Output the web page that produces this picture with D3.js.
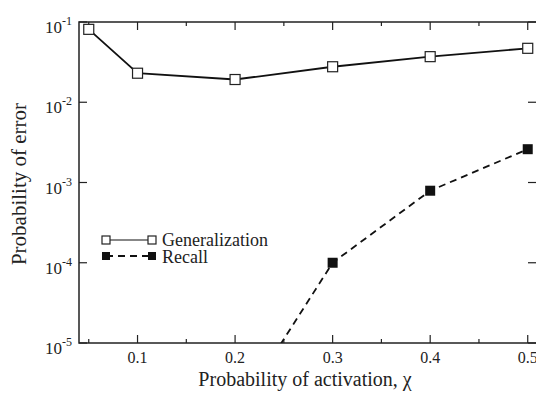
<!DOCTYPE html>
<html>
<head>
<meta charset="utf-8">
<script src="https://cdn.jsdelivr.net/npm/d3@7"></script>
<style>
  body { margin: 0; background: #fff; }
</style>
</head>
<body>
<svg id="chart" width="536" height="395"></svg>
<script>
// data
const xValues = [0.05, 0.1, 0.2, 0.3, 0.4, 0.5];
const generalization = [0.081, 0.023, 0.0192, 0.0277, 0.037, 0.047];
const recallX = [0.2, 0.3, 0.4, 0.5];
const recall = [1.25e-6, 1.0e-4, 7.9e-4, 2.6e-3];
const xTicks = [0.1, 0.2, 0.3, 0.4, 0.5];
const xMinor = [0.05, 0.15, 0.25, 0.35, 0.45];
const yExponents = [-1, -2, -3, -4, -5];

const FONT = '"Liberation Serif"';
const margin = {left: 79, top: 22, right: 537, bottom: 343};
const svg = d3.select('#chart');

const x = d3.scaleLinear().domain([0.04, 0.5095]).range([margin.left, margin.right]);
const y = d3.scaleLog().domain([1e-5, 1e-1]).range([margin.bottom, margin.top]);

svg.append('clipPath').attr('id', 'clip')
  .append('rect')
    .attr('x', margin.left).attr('y', margin.top)
    .attr('width', margin.right - margin.left)
    .attr('height', margin.bottom - margin.top);

// frame
svg.append('rect')
  .attr('x', margin.left).attr('y', margin.top)
  .attr('width', margin.right - margin.left)
  .attr('height', margin.bottom - margin.top)
  .attr('fill', 'none').attr('stroke', '#222').attr('stroke-width', 1.5);

const ticks = svg.append('g').attr('stroke', '#222').attr('stroke-width', 1.2);
const tickLen = 8, minorLen = 4;
xTicks.forEach(t => {
    ticks.append('line').attr('x1', x(t)).attr('x2', x(t))
      .attr('y1', margin.bottom).attr('y2', margin.bottom - tickLen);
    ticks.append('line').attr('x1', x(t)).attr('x2', x(t))
      .attr('y1', margin.top).attr('y2', margin.top + tickLen);
});
xMinor.forEach(t => {
    ticks.append('line').attr('x1', x(t)).attr('x2', x(t))
      .attr('y1', margin.bottom).attr('y2', margin.bottom - minorLen);
    ticks.append('line').attr('x1', x(t)).attr('x2', x(t))
      .attr('y1', margin.top).attr('y2', margin.top + minorLen);
});
yExponents.forEach(e => {
    const v = Math.pow(10, e);
    ticks.append('line').attr('x1', margin.left).attr('x2', margin.left + tickLen)
      .attr('y1', y(v)).attr('y2', y(v));
    ticks.append('line').attr('x1', margin.right).attr('x2', margin.right - tickLen - 1)
      .attr('y1', y(v)).attr('y2', y(v));
});

// tick labels
svg.append('g').selectAll('text')
  .data(xTicks)
  .join('text')
    .attr('x', d => x(d))
    .attr('y', margin.bottom + 20)
    .attr('text-anchor', 'middle')
    .attr('font-size', 16)
    .attr('fill', '#222')
    .style('font-family', FONT)
    .text(d => d3.format('.1f')(d));

const yl = svg.append('g').selectAll('text')
  .data(yExponents)
  .join('text')
    .attr('x', 72)
    .attr('y', d => y(Math.pow(10, d)) + 11)
    .attr('text-anchor', 'end')
    .attr('font-size', 17)
    .attr('fill', '#222')
    .style('font-family', FONT);
yl.append('tspan').text('10');
yl.append('tspan').attr('dy', -8).attr('font-size', 12).text(d => d);

// axis titles
svg.append('text')
  .attr('x', 305).attr('y', 386)
  .attr('text-anchor', 'middle').attr('font-size', 20).attr('fill', '#222')
  .style('font-family', FONT)
  .text('Probability of activation, χ');
svg.append('text')
  .attr('transform', 'translate(26,184) rotate(-90)')
  .attr('text-anchor', 'middle').attr('font-size', 21).attr('fill', '#222')
  .style('font-family', FONT)
  .text('Probability of error');

// series
const plot = svg.append('g').attr('clip-path', 'url(#clip)');
const line = d3.line().x(d => x(d[0])).y(d => y(d[1]));
const genData = xValues.map((v, i) => [v, generalization[i]]);
const recData = recallX.map((v, i) => [v, recall[i]]);

plot.append('path').datum(genData)
  .attr('d', line).attr('fill', 'none').attr('stroke', '#111').attr('stroke-width', 1.8);
plot.append('path').datum(recData)
  .attr('d', line).attr('fill', 'none').attr('stroke', '#111').attr('stroke-width', 1.8)
  .attr('stroke-dasharray', '7,5');

const sq = 10;
svg.append('g').selectAll('rect')
  .data(genData)
  .join('rect')
    .attr('x', d => x(d[0]) - sq / 2).attr('y', d => y(d[1]) - sq / 2)
    .attr('width', sq).attr('height', sq)
    .attr('fill', '#fff').attr('stroke', '#222').attr('stroke-width', 1.2);
svg.append('g').attr('clip-path', 'url(#clip)').selectAll('rect')
  .data(recData)
  .join('rect')
    .attr('x', d => x(d[0]) - sq / 2).attr('y', d => y(d[1]) - sq / 2)
    .attr('width', sq).attr('height', sq)
    .attr('fill', '#111');

// legend
const legend = svg.append('g');
const lx0 = 106, lx1 = 152;
[['Generalization', 240, 246, false], ['Recall', 256, 263, true]].forEach(([name, ly, ty, filled]) => {
    legend.append('line').attr('x1', lx0).attr('x2', lx1).attr('y1', ly).attr('y2', ly)
      .attr('stroke', '#111').attr('stroke-width', filled ? 1.8 : 1.2)
      .attr('stroke-dasharray', filled ? '7,5' : null);
    [lx0, lx1].forEach(cx => {
        legend.append('rect').attr('x', cx - 4).attr('y', ly - 4)
          .attr('width', 8).attr('height', 8)
          .attr('fill', filled ? '#111' : '#fff')
          .attr('stroke', '#222').attr('stroke-width', filled ? 0 : 1.2);
    });
    legend.append('text').attr('x', 162).attr('y', ty)
      .attr('font-size', 18).attr('fill', '#222')
      .style('font-family', FONT)
      .text(name);
});
</script>
</body>
</html>
